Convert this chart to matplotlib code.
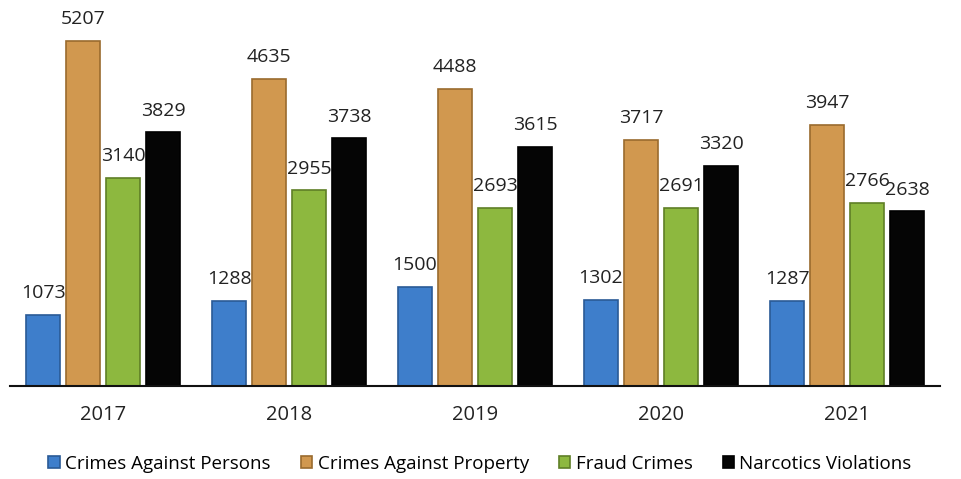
import matplotlib.pyplot as plt
import numpy as np

years = ['2017', '2018', '2019', '2020', '2021']
persons = [1073, 1288, 1500, 1302, 1287]
property_ = [5207, 4635, 4488, 3717, 3947]
fraud = [3140, 2955, 2693, 2691, 2766]
narcotics = [3829, 3738, 3615, 3320, 2638]

series = [
    ('Crimes Against Persons', persons, '#3E7ECB', '#2A5A96'),
    ('Crimes Against Property', property_, '#D1984F', '#9A6B2E'),
    ('Fraud Crimes', fraud, '#8DB83F', '#5F7F26'),
    ('Narcotics Violations', narcotics, '#050505', '#000000'),
]

plt.rcParams['font.family'] = ['Open Sans', 'DejaVu Sans']

fig = plt.figure(figsize=(9.62, 4.79), dpi=100)
ax = fig.add_axes([10 / 962, 1 - 386 / 479, 930 / 962, 371 / 479])

x = np.arange(len(years))
step = 0.215
width = 0.178
for i, (name, vals, col, edge) in enumerate(series):
    pos = x + (i - 1.5) * step
    bars = ax.bar(pos, vals, width, color=col, edgecolor=edge, linewidth=1.2, label=name)
    for b, v in zip(bars, vals):
        ax.text(b.get_x() + b.get_width() / 2, v + 190, str(v),
                ha='center', va='bottom', fontsize=14, color='#222222')

ax.set_xlim(-0.5, len(years) - 0.5)
ax.set_ylim(0, 5600)
ax.set_xticks(x)
ax.set_xticklabels(years, fontsize=14.5, color='#222222')
ax.set_yticks([])
ax.tick_params(axis='x', length=0, pad=14)
for s in ['top', 'right', 'left']:
    ax.spines[s].set_visible(False)
ax.spines['bottom'].set_linewidth(1.5)
ax.spines['bottom'].set_color('#111111')

fig.legend(loc='center', bbox_to_anchor=(480 / 962, 1 - 464 / 479), ncol=4,
           frameon=False, fontsize=13.5, handlelength=0.6, handleheight=0.6,
           handletextpad=0.3, columnspacing=1.6)

fig.savefig('out.png', dpi=100)
